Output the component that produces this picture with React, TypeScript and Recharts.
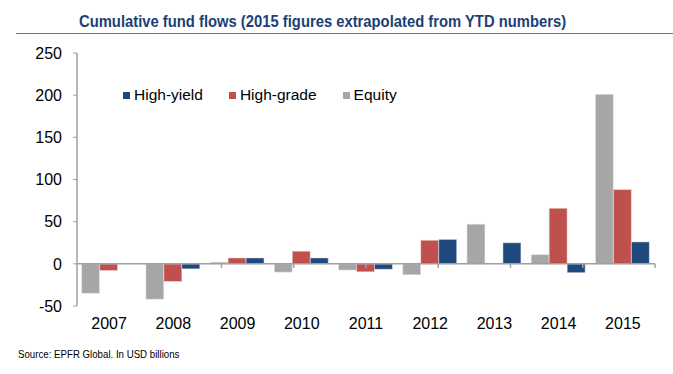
import React from "react";
import { BarChart, Bar, XAxis, YAxis, ReferenceLine } from "recharts";

const years = ["2007", "2008", "2009", "2010", "2011", "2012", "2013", "2014", "2015"];
const equity = [-35, -42, 2, -10, -7.5, -13, 47, 11, 201];
const highGrade = [-8, -21, 7, 15, -9.5, 28, 0, 66, 88];
const highYield = [0, -6, 7, 7, -6.5, 29, 25, -10.5, 26];
const yTicks = [-50, 0, 50, 100, 150, 200, 250];
const boundaries = [1, 2, 3, 4, 5, 6, 7, 8, 9];

const data = years.map((year, i) => ({
  year,
  equity: equity[i],
  highGrade: highGrade[i],
  highYield: highYield[i],
}));

const GRAY = "#a6a6a6";
const RED = "#c0504d";
const BLUE = "#1f497d";
const AXIS = "#a0a0a0";

function LegendItem({ color, label }: { color: string; label: string }) {
  return (
    <span style={{ display: "inline-flex", alignItems: "center", marginRight: 26 }}>
      <span style={{ width: 7, height: 7, background: color, marginRight: 4 }} />
      <span>{label}</span>
    </span>
  );
}

export default function App() {
  return (
    <div style={{ position: "relative", width: 673, height: 374, background: "#fff", fontFamily: "'Liberation Sans', Arial, sans-serif" }}>
      <style>{"body{margin:0}"}</style>
      <div
        style={{
          position: "absolute",
          left: 79,
          top: 12,
          fontWeight: "bold",
          fontSize: 17,
          color: "#1c3f74",
          whiteSpace: "nowrap",
          transform: "scaleX(0.87)",
          transformOrigin: "left top",
        }}
      >
        Cumulative fund flows (2015 figures extrapolated from YTD numbers)
      </div>
      <div style={{ position: "absolute", left: 16, right: 0, top: 33, height: 1, background: "#5a7aa6" }} />
      <BarChart
        width={673}
        height={374}
        data={data}
        margin={{ top: 53, right: 18, bottom: 38, left: 0 }}
        barGap={0}
        barCategoryGap={4.6}
      >
        <XAxis
          dataKey="year"
          height={30}
          axisLine={false}
          tickLine={false}
          tickSize={0}
          tickMargin={12}
          tick={{ fill: "#000", fontSize: 16 }}
          interval={0}
        />
        <XAxis xAxisId="grid" type="number" domain={[0, 9]} hide />
        <YAxis
          domain={[-50, 250]}
          ticks={yTicks}
          width={77}
          axisLine={{ stroke: AXIS, strokeWidth: 1.5 }}
          tickLine={{ stroke: AXIS }}
          tickSize={4}
          tickMargin={11}
          tick={{ fill: "#000", fontSize: 16 }}
        />
        <Bar dataKey="equity" name="Equity" fill={GRAY} stroke="#f2f2f2" strokeWidth={0.5} isAnimationActive={false} />
        <Bar dataKey="highGrade" name="High-grade" fill={RED} stroke="#f2f2f2" strokeWidth={0.5} isAnimationActive={false} />
        <Bar dataKey="highYield" name="High-yield" fill={BLUE} stroke="#f2f2f2" strokeWidth={0.5} isAnimationActive={false} />
        <ReferenceLine y={0} stroke={AXIS} strokeWidth={1.5} />
        {boundaries.map((b) => (
          <ReferenceLine
            key={b}
            xAxisId="grid"
            segment={[
              { x: b, y: 0 },
              { x: b, y: -5 },
            ]}
            stroke={AXIS}
            strokeWidth={1.5}
          />
        ))}
      </BarChart>
      <div style={{ position: "absolute", left: 123, top: 86, fontSize: 15.5, color: "#000", display: "flex" }}>
        <LegendItem color={BLUE} label="High-yield" />
        <LegendItem color={RED} label="High-grade" />
        <LegendItem color={GRAY} label="Equity" />
      </div>
      <div
        style={{
          position: "absolute",
          left: 18,
          top: 348,
          fontSize: 11,
          color: "#000",
          whiteSpace: "nowrap",
          transform: "scaleX(0.88)",
          transformOrigin: "left top",
        }}
      >
        Source: EPFR Global. In USD billions
      </div>
    </div>
  );
}
